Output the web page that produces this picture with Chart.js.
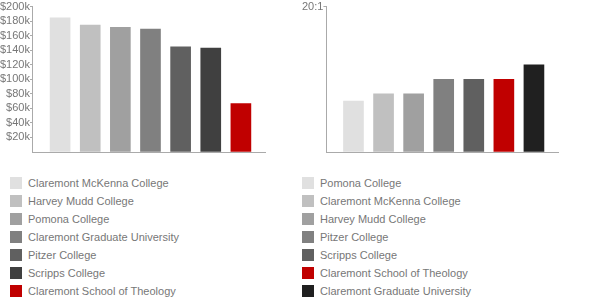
<!DOCTYPE html>
<html>
<head>
<meta charset="utf-8">
<script src="https://cdn.jsdelivr.net/npm/chart.js@4"></script>
<style>
    body { margin: 0; background: #fff; font-family: "Liberation Sans", Arial, sans-serif; }
    #wrap { position: relative; width: 600px; height: 300px; }
    .box { position: absolute; top: 0; width: 300px; height: 160px; }
    .legend { position: absolute; top: 177px; margin: 0; padding: 0; list-style: none; }
    .legend li { height: 18px; font-size: 11px; color: #777; white-space: nowrap; }
    .legend span { display: inline-block; width: 12px; height: 12px; vertical-align: top; margin-right: 6px; }
    .legend li div { display: inline-block; line-height: 12px; vertical-align: top; }
</style>
</head>
<body>
<div id="wrap">
    <div class="box" style="left:0"><canvas id="salary"></canvas></div>
    <div class="box" style="left:300px"><canvas id="ratio"></canvas></div>
    <ul class="legend" id="salary-legend" style="left:10px"></ul>
    <ul class="legend" id="ratio-legend" style="left:302px"></ul>
</div>
<script>
// left chart: salary
const salaryLabels = ["Claremont McKenna College", "Harvey Mudd College", "Pomona College",
    "Claremont Graduate University", "Pitzer College", "Scripps College", "Claremont School of Theology"];
const salaryValues = [184500, 174500, 171500, 169000, 144500, 143000, 66500];
const salaryColors = ["#e0e0e0", "#c0c0c0", "#a0a0a0", "#808080", "#606060", "#404040", "#c00000"];

// right chart: student / faculty ratio (x:1)
const ratioLabels = ["Pomona College", "Claremont McKenna College", "Harvey Mudd College",
    "Pitzer College", "Scripps College", "Claremont School of Theology", "Claremont Graduate University"];
const ratioValues = [7, 8, 8, 10, 10, 10, 12];
const ratioColors = ["#e0e0e0", "#c0c0c0", "#a0a0a0", "#808080", "#606060", "#c00000", "#202020"];

const axisColor = "#aaaaaa";
Chart.defaults.font.family = '"Liberation Sans", Arial, sans-serif';
Chart.defaults.font.size = 11;
Chart.defaults.color = "#777";

function makeChart(id, labels, values, colors, yOpts, pad) {
    return new Chart(document.getElementById(id), {
        type: "bar",
        data: {
            labels: labels,
            datasets: [{
                data: values.map((v, i) => ({ x: i, y: v })),
                backgroundColor: colors,
                barThickness: 20
            }]
        },
        options: {
            responsive: true,
            maintainAspectRatio: false,
            animation: false,
            layout: { padding: pad },
            plugins: { legend: { display: false }, tooltip: { enabled: false } },
            scales: {
                x: {
                    type: "linear",
                    min: -0.9,
                    max: 6.8,
                    offset: false,
                    grid: { display: false, drawTicks: false, offset: false },
                    ticks: { display: false },
                    border: { color: axisColor }
                },
                y: Object.assign({
                    min: 0,
                    grid: {
                        drawOnChartArea: false,
                        tickLength: 3,
                        color: c => (c.tick && c.tick.value === 0) ? "rgba(0,0,0,0)" : axisColor
                    },
                    border: { color: axisColor }
                }, yOpts)
            }
        }
    });
}

makeChart("salary", salaryLabels, salaryValues, salaryColors, {
    max: 200000,
    ticks: { stepSize: 20000, autoSkip: false, padding: 0, callback: v => v === 0 ? "" : "$" + v / 1000 + "k" }
}, { left: 0, right: 35, top: -1, bottom: 8 });

makeChart("ratio", ratioLabels, ratioValues, ratioColors, {
    max: 20,
    ticks: { stepSize: 20, autoSkip: false, padding: 0, callback: v => v === 0 ? "" : v + ":1" }
}, { left: 2, right: 42, top: -1, bottom: 8 });

function fillLegend(id, labels, colors) {
    const ul = document.getElementById(id);
    labels.forEach((name, i) => {
        const li = document.createElement("li");
        li.innerHTML = '<span style="background:' + colors[i] + '"></span><div>' + name + '</div>';
        ul.appendChild(li);
    });
}
fillLegend("salary-legend", salaryLabels, salaryColors);
fillLegend("ratio-legend", ratioLabels, ratioColors);
</script>
</body>
</html>
